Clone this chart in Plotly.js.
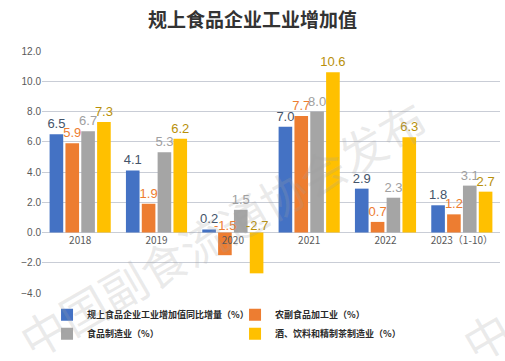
<!DOCTYPE html>
<html>
<head>
<meta charset="utf-8">
<script src="https://cdn.plot.ly/plotly-3.0.1.min.js"></script>
<style>html,body{margin:0;padding:0;background:#fff;}#chart{width:505px;height:361px;}</style>
</head>
<body>
<div id="chart"></div>
<script>
const categories = ['2018', '2019', '2020', '2021', '2022', '2023（1-10）'];
const seriesNames = ['规上食品企业工业增加值同比增量（%）', '农副食品加工业（%）', '食品制造业（%）', '酒、饮料和精制茶制造业（%）'];
const totalGrowth = [6.5, 4.1, 0.2, 7.0, 2.9, 1.8];
const agriProcessing = [5.9, 1.9, -1.5, 7.7, 0.7, 1.2];
const foodManufacturing = [6.7, 5.3, 1.5, 8.0, 2.3, 3.1];
const beverageManufacturing = [7.3, 6.2, -2.7, 10.6, 6.3, 2.7];
const yTicks = [-4, -2, 0, 2, 4, 6, 8, 10, 12];

const seriesValues = [totalGrowth, agriProcessing, foodManufacturing, beverageManufacturing];
const barColors = ['#4472c4', '#ed7d31', '#a5a5a5', '#ffc000'];
const labelColors = ['#44546a', '#ed7d31', '#a0a0a0', '#b8900a'];

const yMin = -4, yMax = 12;
const bargap = 0.17, bargroupgap = 0.14;
const slot = (1 - bargap) / seriesValues.length;

const traces = seriesValues.map((vals, i) => ({
  type: 'bar',
  name: seriesNames[i],
  x: categories,
  y: vals,
  marker: {color: barColors[i]},
  text: vals.map(v => v >= 0 ? v.toFixed(1) : ''),
  textposition: 'outside',
  constraintext: 'none',
  cliponaxis: false,
  textfont: {size: 13, color: labelColors[i], family: 'Liberation Sans, Arial, sans-serif'},
  hoverinfo: 'x+y'
}));

const annotations = [];
seriesValues.forEach((vals, i) => {
  vals.forEach((v, j) => {
    if (v < 0) {
      annotations.push({
        x: j - (1 - bargap) / 2 + slot * (i + 0.5),
        y: 0, xref: 'x', yref: 'y',
        text: v.toFixed(1), showarrow: false, yanchor: 'bottom', yshift: -2,
        font: {size: 13, color: labelColors[i], family: 'Liberation Sans, Arial, sans-serif'}
      });
    }
  });
});

// watermark
const wmFont = {size: 46, color: 'rgba(160,160,160,0.22)', family: 'Noto Sans CJK SC'};
annotations.push({
  x: 0.393, y: 0.27, xref: 'paper', yref: 'paper', xanchor: 'center', yanchor: 'middle',
  text: '中国副食流通协会发布', showarrow: false, textangle: -30, font: wmFont
});
annotations.push({
  x: 0.97, y: -0.175, xref: 'paper', yref: 'paper', xanchor: 'center', yanchor: 'middle',
  text: '中', showarrow: false, textangle: -30, font: wmFont
});

const layout = {
  width: 505, height: 361,
  margin: {l: 42, r: 5, t: 51, b: 68},
  paper_bgcolor: '#ffffff', plot_bgcolor: '#ffffff',
  font: {family: 'Noto Sans CJK SC, sans-serif', color: '#404040'},
  title: {text: '<b>规上食品企业工业增加值</b>', x: 0.5, xanchor: 'center', y: 0.945, yanchor: 'middle',
          font: {size: 19, color: '#333333', family: 'Noto Sans CJK SC'}},
  barmode: 'group', bargap: bargap, bargroupgap: bargroupgap,
  xaxis: {type: 'category', showgrid: false, zeroline: false, showline: false, ticks: '',
          anchor: 'free', position: (0 - yMin) / (yMax - yMin),
          tickfont: {size: 10, color: '#595959', family: 'Noto Sans CJK SC'}, automargin: false},
  yaxis: {range: [yMin, yMax], tickvals: yTicks, tickformat: '.1f', showgrid: true, gridcolor: '#c9cdd6', gridwidth: 1,
          zeroline: true, zerolinecolor: '#c9cdd6', zerolinewidth: 1, showline: false,
          tickfont: {size: 10, color: '#595959', family: 'Liberation Sans, Arial, sans-serif'}, automargin: false},
  legend: {orientation: 'h', x: 0.011, xanchor: 'left', y: -0.03, yanchor: 'top',
           entrywidth: 143, entrywidthmode: 'pixels', itemwidth: 30,
           font: {size: 9, color: '#2a2a2a', family: 'Noto Sans CJK SC', weight: 'bold'}, tracegroupgap: 0,
           bgcolor: 'rgba(0,0,0,0)'},
  annotations: annotations,
  showlegend: true
};

Plotly.newPlot('chart', traces, layout, {displayModeBar: false, staticPlot: true});
</script>
</body>
</html>
